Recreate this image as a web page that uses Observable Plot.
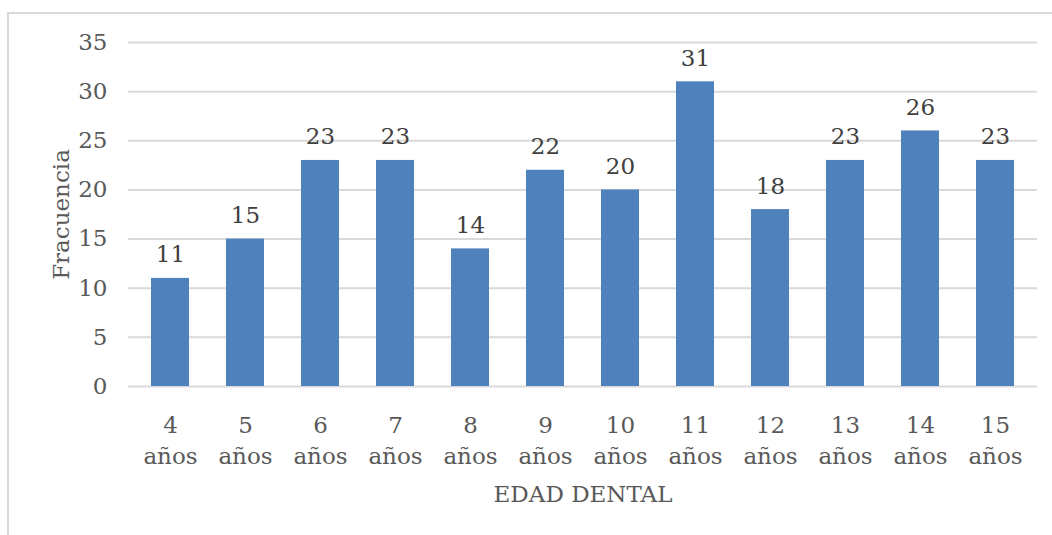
<!DOCTYPE html>
<html>
<head>
<meta charset="utf-8">
<script src="https://cdn.jsdelivr.net/npm/d3@7"></script>
<script src="https://cdn.jsdelivr.net/npm/@observablehq/plot@0.6"></script>
<style>
  body { margin: 0; background: #fff; }
  #chart { position: relative; width: 1052px; height: 535px; }
  #chart .edge {
    position: absolute; left: 7px; top: 12px; right: 0; bottom: 0;
    border-top: 2px solid #d9d9d9; border-left: 2px solid #d9d9d9;
  }
  #chart svg { position: absolute; left: 0; top: 0; }
</style>
</head>
<body>
<div id="chart"><div class="edge"></div></div>
<script>
// Frecuencia por edad dental (años)
const edades = [4, 5, 6, 7, 8, 9, 10, 11, 12, 13, 14, 15];
const frecuencias = [11, 15, 23, 23, 14, 22, 20, 31, 18, 23, 26, 23];
const yTicks = [0, 5, 10, 15, 20, 25, 30, 35];
const tituloY = "Fracuencia";
const tituloX = "EDAD DENTAL";

const data = edades.map((e, i) => ({edad: e, n: frecuencias[i]}));

const chart = Plot.plot({
  width: 1052,
  height: 535,
  marginLeft: 128,
  marginRight: 15,
  marginTop: 42,
  marginBottom: 149,
  style: {fontFamily: "'DejaVu Serif', serif", fontSize: "23px", background: "transparent"},
  x: {type: "band", domain: edades, paddingInner: 0.5, paddingOuter: 0.25},
  y: {domain: [0, 35]},
  marks: [
    Plot.gridY(yTicks, {stroke: "#d9d9d9", strokeOpacity: 1, strokeWidth: 2}),
    Plot.barY(data, {x: "edad", y: "n", fill: "#4f81bd"}),
    Plot.text(data, {x: "edad", y: "n", text: "n", lineAnchor: "bottom", dy: -16, fill: "#404040", fontSize: 23}),
    Plot.axisY(yTicks, {tickSize: 0, tickPadding: 21, fill: "#595959", fontSize: 23, label: null}),
    Plot.axisX({tickSize: 0, tickPadding: 24, lineHeight: 1.35, fontSize: 23, tickFormat: d => `${d}\naños`, fill: "#595959", label: null}),
    Plot.text([tituloY], {text: d => d, frameAnchor: "left", textAnchor: "middle", lineAnchor: "middle", rotate: -90, dx: -67, fill: "#595959", fontSize: 23}),
    Plot.text([tituloX], {text: d => d, frameAnchor: "bottom", textAnchor: "middle", lineAnchor: "middle", dy: 108, fill: "#595959", fontSize: 23})
  ]
});

document.getElementById("chart").appendChild(chart);
</script>
</body>
</html>
